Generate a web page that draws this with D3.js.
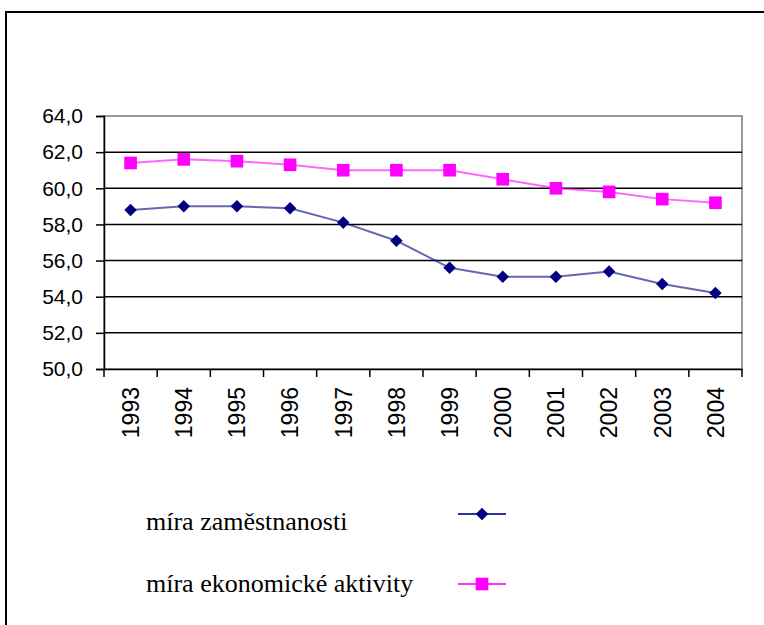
<!DOCTYPE html>
<html>
<head>
<meta charset="utf-8">
<script src="https://cdn.jsdelivr.net/npm/d3@7"></script>
<style>
  body { margin: 0; background: #fff; }
  svg { display: block; }
</style>
</head>
<body>
<div id="container"></div>
<script>
// Data
const years = ["1993", "1994", "1995", "1996", "1997", "1998", "1999", "2000", "2001", "2002", "2003", "2004"];
const employment = [58.8, 59.0, 59.0, 58.9, 58.1, 57.1, 55.6, 55.1, 55.1, 55.4, 54.7, 54.2];
const activity = [61.4, 61.6, 61.5, 61.3, 61.0, 61.0, 61.0, 60.5, 60.0, 59.8, 59.4, 59.2];
const yTicks = [50, 52, 54, 56, 58, 60, 62, 64];
const seriesNames = ["míra zaměstnanosti", "míra ekonomické aktivity"];

const W = 764, H = 625;
const plot = { left: 104, right: 742, top: 116, bottom: 369 };

const czech = d3.formatLocale({ decimal: ",", thousands: " ", grouping: [3], currency: ["", " Kč"] });
const fmt = czech.format(".1f");

const x = d3.scaleBand()
    .domain(years)
    .range([plot.left, plot.right]);

const y = d3.scaleLinear()
    .domain([50, 64])
    .range([plot.bottom, plot.top]);

const svg = d3.select("#container")
    .append("svg")
    .attr("width", W)
    .attr("height", H);

svg.append("rect")
    .attr("width", W).attr("height", H)
    .attr("fill", "#fff");

// outer frame (runs off the right and bottom edges)
svg.append("rect")
    .attr("x", 6).attr("y", 12)
    .attr("width", 900).attr("height", 800)
    .attr("fill", "none")
    .attr("stroke", "#000")
    .attr("stroke-width", 2);

// plot area border (grey)
svg.append("rect")
    .attr("x", plot.left).attr("y", plot.top)
    .attr("width", plot.right - plot.left)
    .attr("height", plot.bottom - plot.top)
    .attr("fill", "none")
    .attr("stroke", "#9a9a9a")
    .attr("stroke-width", 2);

// gridlines
svg.append("g")
    .selectAll("line")
    .data(yTicks.filter(d => d > 50 && d < 64))
    .join("line")
    .attr("x1", plot.left).attr("x2", plot.right)
    .attr("y1", d => y(d)).attr("y2", d => y(d))
    .attr("stroke", "#000")
    .attr("stroke-width", 1.5);

// y axis
const yAxis = svg.append("g")
    .attr("transform", `translate(${plot.left},0)`)
    .call(d3.axisLeft(y).tickValues(yTicks).tickFormat(fmt).tickSize(8).tickPadding(13));
yAxis.selectAll("path, line").attr("stroke", "#000").attr("stroke-width", 1.5);
yAxis.selectAll("text")
    .attr("fill", "#000")
    .style("font-family", "'Liberation Sans', Arial, sans-serif")
    .style("font-size", "21px");

// x axis, ticks on band boundaries
const xAxis = svg.append("g")
    .attr("transform", `translate(0,${plot.bottom})`)
    .call(d3.axisBottom(x).tickSize(0).tickSizeOuter(0).tickPadding(0));
xAxis.select(".domain").attr("stroke", "#000").attr("stroke-width", 1.5);
xAxis.selectAll("text")
    .attr("fill", "#000")
    .attr("transform", "rotate(-90)")
    .attr("text-anchor", "end")
    .attr("x", -18)
    .attr("y", 0)
    .attr("dy", "0.36em")
    .style("font-family", "'Liberation Sans', Arial, sans-serif")
    .style("font-size", "23px");
xAxis.append("g")
    .selectAll("line")
    .data(years.map(d => x(d)).concat([plot.right]))
    .join("line")
    .attr("x1", d => d).attr("x2", d => d)
    .attr("y1", 0).attr("y2", 8)
    .attr("stroke", "#000")
    .attr("stroke-width", 1.5);

const cx = d => x(d) + x.bandwidth() / 2;

const series = [
    { name: seriesNames[0], values: employment, color: "#000080", lineColor: "#000080", symbol: d3.symbolDiamond2, size: 100 },
    { name: seriesNames[1], values: activity, color: "#ff00ff", lineColor: "#ff00ff", symbol: d3.symbolSquare, size: 160 }
];

const line = d3.line()
    .x((d, i) => cx(years[i]))
    .y(d => y(d));

series.forEach(s => {
    svg.append("path")
        .datum(s.values)
        .attr("d", line)
        .attr("fill", "none")
        .attr("stroke", s.lineColor)
        .attr("stroke-opacity", 0.6)
        .attr("stroke-width", 2);

    svg.append("g")
        .selectAll("path")
        .data(s.values)
        .join("path")
        .attr("d", d3.symbol().type(s.symbol).size(s.size))
        .attr("transform", (d, i) => `translate(${cx(years[i])},${y(d)})`)
        .attr("fill", s.color);
});

// legend
const legendRows = [
    { textY: 530, lineY: 514 },
    { textY: 592, lineY: 584 }
];

series.forEach((s, i) => {
    const r = legendRows[i];
    const g = svg.append("g");
    g.append("text")
        .attr("x", 146)
        .attr("y", r.textY)
        .attr("fill", "#000")
        .style("font-family", "'Liberation Serif', 'DejaVu Serif', 'Times New Roman', serif")
        .style("font-size", "26px")
        .text(s.name);
    g.append("line")
        .attr("x1", 458).attr("x2", 506)
        .attr("y1", r.lineY).attr("y2", r.lineY)
        .attr("stroke", s.lineColor)
        .attr("stroke-opacity", 0.8)
        .attr("stroke-width", 2);
    g.append("path")
        .attr("d", d3.symbol().type(s.symbol).size(s.size))
        .attr("transform", `translate(482,${r.lineY})`)
        .attr("fill", s.color);
});
</script>
</body>
</html>
